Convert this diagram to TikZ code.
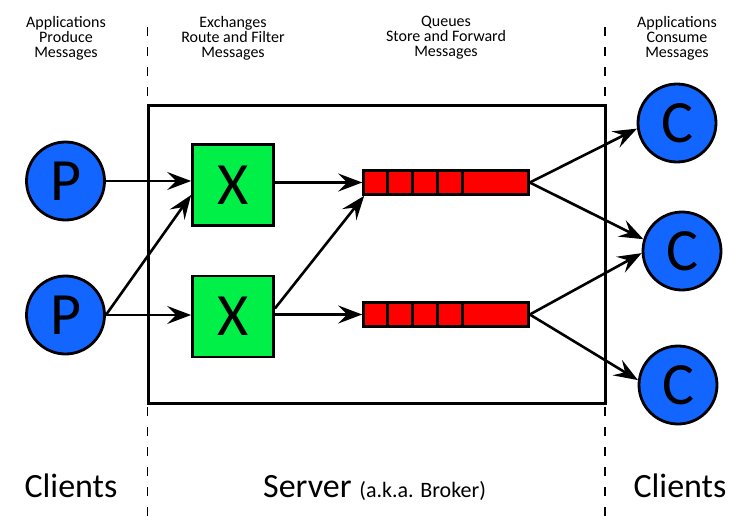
\documentclass[tikz,border=0pt]{standalone}
\usepackage{fontspec}
\setmainfont{Carlito}
\usetikzlibrary{arrows.meta}

\definecolor{clientblue}{RGB}{18,102,255}
\definecolor{exchgreen}{RGB}{0,240,72}
\definecolor{queuered}{RGB}{255,0,0}

\begin{document}
\begin{tikzpicture}[x=1pt,y=-1pt,
  client/.style={circle, draw, line width=2.8pt, fill=clientblue,
    minimum size=78pt, inner sep=0pt, font=\fontsize{60}{60}\selectfont},
  exchange/.style={rectangle, draw, line width=2.8pt, fill=exchgreen,
    minimum width=81pt, minimum height=81pt, inner sep=0pt,
    font=\fontsize{60}{60}\selectfont},
  queue/.style={rectangle, draw, line width=2.6pt, fill=queuered,
    minimum width=165pt, minimum height=24pt, inner sep=0pt},
  flow/.style={line width=2.6pt,
    -{Stealth[length=24pt,width=18pt,inset=9pt]}},
  divider/.style={line width=1.4pt, dash pattern=on 9pt off 11pt},
  caption/.style={align=center, inner sep=0pt,
    font=\fontsize{16}{15}\selectfont},
  big/.style={inner sep=0pt, font=\fontsize{34}{34}\selectfont}
]
\useasboundingbox (0,0) rectangle (754,530);

% column separators
\draw[divider] (147.5,27) -- (147.5,522);
\draw[divider] (605,27) -- (605,522);

% broker box
\draw[line width=3pt] (148,105) rectangle (605,403);

% producers, exchanges, queues, consumers
\node[client] (p1) at (65.5,181) {P};
\node[client] (p2) at (65.5,315) {P};
\node[exchange] (x1) at (233,185) {X};
\node[exchange] (x2) at (233,316.5) {X};
\node[queue] (q1) at (446,182.5) {};
\node[queue] (q2) at (446,314.5) {};
\node[client] (c1) at (677,123) {C};
\node[client] (c2) at (682,251) {C};
\node[client] (c3) at (678,385) {C};

% queue slots
\foreach \q in {q1,q2}{
  \foreach \d in {25,50,75,100}{
    \draw[line width=2.6pt] ([xshift=\d pt]\q.north west) -- ([xshift=\d pt]\q.south west);
  }
}

% message flow
\draw[flow] (p1.east) -- (p1.east -| x1.west);
\draw[flow] (p2.east) -- ([yshift=-10pt]x1.west);
\draw[flow] (p2.east) -- (p2.east -| x2.west);
\draw[flow] (x1.east |- q1.west) -- (q1.west);
\draw[flow] ([yshift=8pt]x2.east) -- ([xshift=2pt]q1.south west);
\draw[flow] (x2.east |- q2.west) -- (q2.west);
\draw[flow] (q1.east) -- (c1.188);
\draw[flow] (q1.east) -- (c2.163);
\draw[flow] (q2.east) -- (c2.183);
\draw[flow] (q2.east) -- (c3.173);

% column headings
\node[caption] (h1) at (66,38) {Applications\\Produce\\Messages};
\node[caption] (h2) at (233,38) {Exchanges\\Route and Filter\\Messages};
\node[caption] (h3) at (446,38) {Queues\\Store and Forward\\Messages};
\node[caption] (h4) at (677,38) {Applications\\Consume\\Messages};

% footer
\node[big, anchor=base] (f1) at (71,497) {Clients};
\node[big, anchor=base west] (f2) at (263,497)
  {Server {\fontsize{22}{22}\selectfont (a.k.a. Broker)}};
\node[big, anchor=base] (f3) at (680,497) {Clients};
\end{tikzpicture}
\end{document}
